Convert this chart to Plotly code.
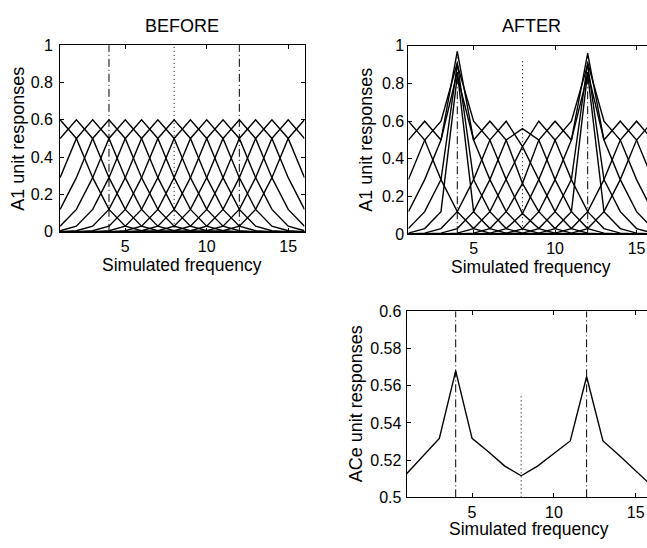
import plotly.graph_objects as go

# Simulated stimulus frequencies (x axis)
freqs = list(range(1, 17))

# A1 unit tuning curves before training, one row per unit (best frequency 1..16)
a1_before = [
    [0.60, 0.50, 0.29, 0.12, 0.03, 0.006, 0.001, 0, 0, 0, 0, 0, 0, 0, 0, 0],
    [0.50, 0.60, 0.50, 0.29, 0.12, 0.03, 0.006, 0.001, 0, 0, 0, 0, 0, 0, 0, 0],
    [0.29, 0.50, 0.60, 0.50, 0.29, 0.12, 0.03, 0.006, 0.001, 0, 0, 0, 0, 0, 0, 0],
    [0.12, 0.29, 0.50, 0.60, 0.50, 0.29, 0.12, 0.03, 0.006, 0.001, 0, 0, 0, 0, 0, 0],
    [0.03, 0.12, 0.29, 0.50, 0.60, 0.50, 0.29, 0.12, 0.03, 0.006, 0.001, 0, 0, 0, 0, 0],
    [0.006, 0.03, 0.12, 0.29, 0.50, 0.60, 0.50, 0.29, 0.12, 0.03, 0.006, 0.001, 0, 0, 0, 0],
    [0.001, 0.006, 0.03, 0.12, 0.29, 0.50, 0.60, 0.50, 0.29, 0.12, 0.03, 0.006, 0.001, 0, 0, 0],
    [0, 0.001, 0.006, 0.03, 0.12, 0.29, 0.50, 0.60, 0.50, 0.29, 0.12, 0.03, 0.006, 0.001, 0, 0],
    [0, 0, 0.001, 0.006, 0.03, 0.12, 0.29, 0.50, 0.60, 0.50, 0.29, 0.12, 0.03, 0.006, 0.001, 0],
    [0, 0, 0, 0.001, 0.006, 0.03, 0.12, 0.29, 0.50, 0.60, 0.50, 0.29, 0.12, 0.03, 0.006, 0.001],
    [0, 0, 0, 0, 0.001, 0.006, 0.03, 0.12, 0.29, 0.50, 0.60, 0.50, 0.29, 0.12, 0.03, 0.006],
    [0, 0, 0, 0, 0, 0.001, 0.006, 0.03, 0.12, 0.29, 0.50, 0.60, 0.50, 0.29, 0.12, 0.03],
    [0, 0, 0, 0, 0, 0, 0.001, 0.006, 0.03, 0.12, 0.29, 0.50, 0.60, 0.50, 0.29, 0.12],
    [0, 0, 0, 0, 0, 0, 0, 0.001, 0.006, 0.03, 0.12, 0.29, 0.50, 0.60, 0.50, 0.29],
    [0, 0, 0, 0, 0, 0, 0, 0, 0.001, 0.006, 0.03, 0.12, 0.29, 0.50, 0.60, 0.50],
    [0, 0, 0, 0, 0, 0, 0, 0, 0, 0.001, 0.006, 0.03, 0.12, 0.29, 0.50, 0.60],
]

# A1 unit tuning curves after training at frequencies 4 and 12
a1_after = [
    [0.60, 0.50, 0.29, 0.12, 0.03, 0.006, 0.001, 0, 0, 0, 0, 0, 0, 0, 0, 0],
    [0.50, 0.60, 0.50, 0.86, 0.12, 0.03, 0.006, 0.001, 0, 0, 0, 0, 0, 0, 0, 0],
    [0.29, 0.50, 0.60, 0.91, 0.29, 0.12, 0.03, 0.006, 0.001, 0, 0, 0, 0, 0, 0, 0],
    [0.12, 0.29, 0.50, 0.97, 0.50, 0.29, 0.12, 0.028, 0.006, 0.001, 0, 0, 0, 0, 0, 0],
    [0.03, 0.12, 0.29, 0.90, 0.60, 0.50, 0.29, 0.11, 0.03, 0.006, 0.001, 0, 0, 0, 0, 0],
    [0.006, 0.03, 0.12, 0.84, 0.50, 0.60, 0.50, 0.27, 0.12, 0.03, 0.006, 0.001, 0, 0, 0, 0],
    [0.001, 0.006, 0.03, 0.12, 0.29, 0.50, 0.60, 0.465, 0.29, 0.12, 0.03, 0.006, 0.001, 0, 0, 0],
    [0, 0.001, 0.006, 0.03, 0.12, 0.29, 0.50, 0.56, 0.50, 0.29, 0.12, 0.03, 0.006, 0.001, 0, 0],
    [0, 0, 0.001, 0.006, 0.03, 0.12, 0.29, 0.465, 0.60, 0.50, 0.29, 0.12, 0.03, 0.006, 0.001, 0],
    [0, 0, 0, 0.001, 0.006, 0.03, 0.12, 0.27, 0.50, 0.60, 0.50, 0.85, 0.12, 0.03, 0.006, 0.001],
    [0, 0, 0, 0, 0.001, 0.006, 0.03, 0.11, 0.29, 0.50, 0.60, 0.90, 0.29, 0.12, 0.03, 0.006],
    [0, 0, 0, 0, 0, 0.001, 0.006, 0.028, 0.12, 0.29, 0.50, 0.96, 0.50, 0.29, 0.12, 0.03],
    [0, 0, 0, 0, 0, 0, 0.001, 0.006, 0.03, 0.12, 0.29, 0.91, 0.60, 0.50, 0.29, 0.12],
    [0, 0, 0, 0, 0, 0, 0, 0.001, 0.006, 0.03, 0.12, 0.86, 0.50, 0.60, 0.50, 0.29],
    [0, 0, 0, 0, 0, 0, 0, 0, 0.001, 0.006, 0.03, 0.12, 0.29, 0.50, 0.60, 0.50],
    [0, 0, 0, 0, 0, 0, 0, 0, 0, 0.001, 0.006, 0.03, 0.12, 0.29, 0.50, 0.60],
]

# ACe unit response after training
ace_after = [0.5127, 0.5222, 0.5317, 0.5680, 0.5317, 0.5245, 0.5168, 0.5116,
             0.5168, 0.5236, 0.5303, 0.5648, 0.5303, 0.5225, 0.5140, 0.5060]

# Trained frequencies (dash-dot markers) and the untrained control frequency (dotted)
trained_freqs = [4, 12]
control_freq = 8

W, H = 647, 548
FONT = "Liberation Sans, Arial, Helvetica, sans-serif"

fig = go.Figure()

line_style = dict(color="black", width=1.4)
for row in a1_before:
    fig.add_trace(go.Scatter(x=freqs, y=row, mode="lines", line=line_style,
                             xaxis="x", yaxis="y", showlegend=False, hoverinfo="skip"))
for row in a1_after:
    fig.add_trace(go.Scatter(x=freqs, y=row, mode="lines", line=line_style,
                             xaxis="x2", yaxis="y2", showlegend=False, hoverinfo="skip"))
fig.add_trace(go.Scatter(x=freqs, y=ace_after, mode="lines", line=line_style,
                         xaxis="x3", yaxis="y3", showlegend=False, hoverinfo="skip"))

DASHDOT = "8px,3px,1px,3px"
DOTTED = "1px,3px"
shapes = []


def vline(xref, yref, x, y0, y1, dash):
    shapes.append(dict(type="line", xref=xref, yref=yref, x0=x, x1=x, y0=y0, y1=y1,
                       line=dict(color="black", width=1, dash=dash), layer="above"))


# BEFORE panel markers: full height
for f in trained_freqs:
    vline("x", "y", f, 0, 1, DASHDOT)
vline("x", "y", control_freq, 0, 1, DOTTED)

# AFTER panel markers: trained lines stop at the peak response
for f in trained_freqs:
    vline("x2", "y2", f, 0, max(r[f - 1] for r in a1_after), DASHDOT)
vline("x2", "y2", control_freq, 0, 0.92, DOTTED)

# ACe panel markers
for f in trained_freqs:
    vline("x3", "y3", f, 0.5, 0.6, DASHDOT)
vline("x3", "y3", control_freq, 0.5, 0.556, DOTTED)

axis_common = dict(
    showline=True, linecolor="black", linewidth=1,
    ticks="inside", ticklen=4, tickcolor="black", tickwidth=1,
    showgrid=False, zeroline=False,
    tickfont=dict(family=FONT, size=16, color="black"),
)


def px_x(v):
    return v / W


def px_y(v):
    return 1 - v / H


fig.update_layout(
    width=W, height=H,
    margin=dict(l=0, r=0, t=0, b=0),
    paper_bgcolor="white", plot_bgcolor="white",
    showlegend=False,
    xaxis=dict(axis_common, domain=[px_x(60.1), px_x(304.5)], range=[1, 16],
               tickvals=[5, 10, 15], mirror="ticks", anchor="y"),
    yaxis=dict(axis_common, domain=[px_y(231), px_y(38.3)], range=[0, 1],
               tick0=0, dtick=0.2, mirror="ticks", anchor="x", ticklabelstandoff=3),
    xaxis2=dict(axis_common, domain=[px_x(408.4), 1], range=[1, 15.64],
                tickvals=[5, 10, 15], mirror="ticks", anchor="y2"),
    yaxis2=dict(axis_common, domain=[px_y(233.5), px_y(39)], range=[0, 1],
                tick0=0, dtick=0.2, anchor="x2"),
    xaxis3=dict(axis_common, domain=[px_x(406.6), 1], range=[1, 15.69],
                tickvals=[5, 10, 15], mirror="ticks", anchor="y3"),
    yaxis3=dict(axis_common, domain=[px_y(505), px_y(313)], range=[0.5, 0.6],
                tick0=0.5, dtick=0.02, anchor="x3", ticklabelstandoff=1),
    shapes=shapes,
)

title_font = dict(family=FONT, size=18, color="black")
label_font = dict(family=FONT, size=17.5, color="black")
annotations = [
    dict(text="BEFORE", x=px_x(182), y=px_y(19), font=title_font),
    dict(text="AFTER", x=px_x(531), y=px_y(19), font=title_font),
    dict(text="Simulated frequency", x=px_x(182), y=px_y(265.5), font=label_font),
    dict(text="Simulated frequency", x=px_x(531), y=px_y(267), font=label_font),
    dict(text="Simulated frequency", x=px_x(529), y=px_y(538), font=label_font),
    dict(text="A1 unit responses", x=px_x(18), y=px_y(135), textangle=-90, font=title_font),
    dict(text="A1 unit responses", x=px_x(366), y=px_y(136), textangle=-90, font=title_font),
    dict(text="ACe unit responses", x=px_x(356), y=px_y(409), textangle=-90, font=title_font),
]
for a in annotations:
    a.update(xref="paper", yref="paper", xanchor="center", yanchor="middle",
             showarrow=False, borderpad=0)
fig.update_layout(annotations=annotations)

fig.write_html("out.html")
